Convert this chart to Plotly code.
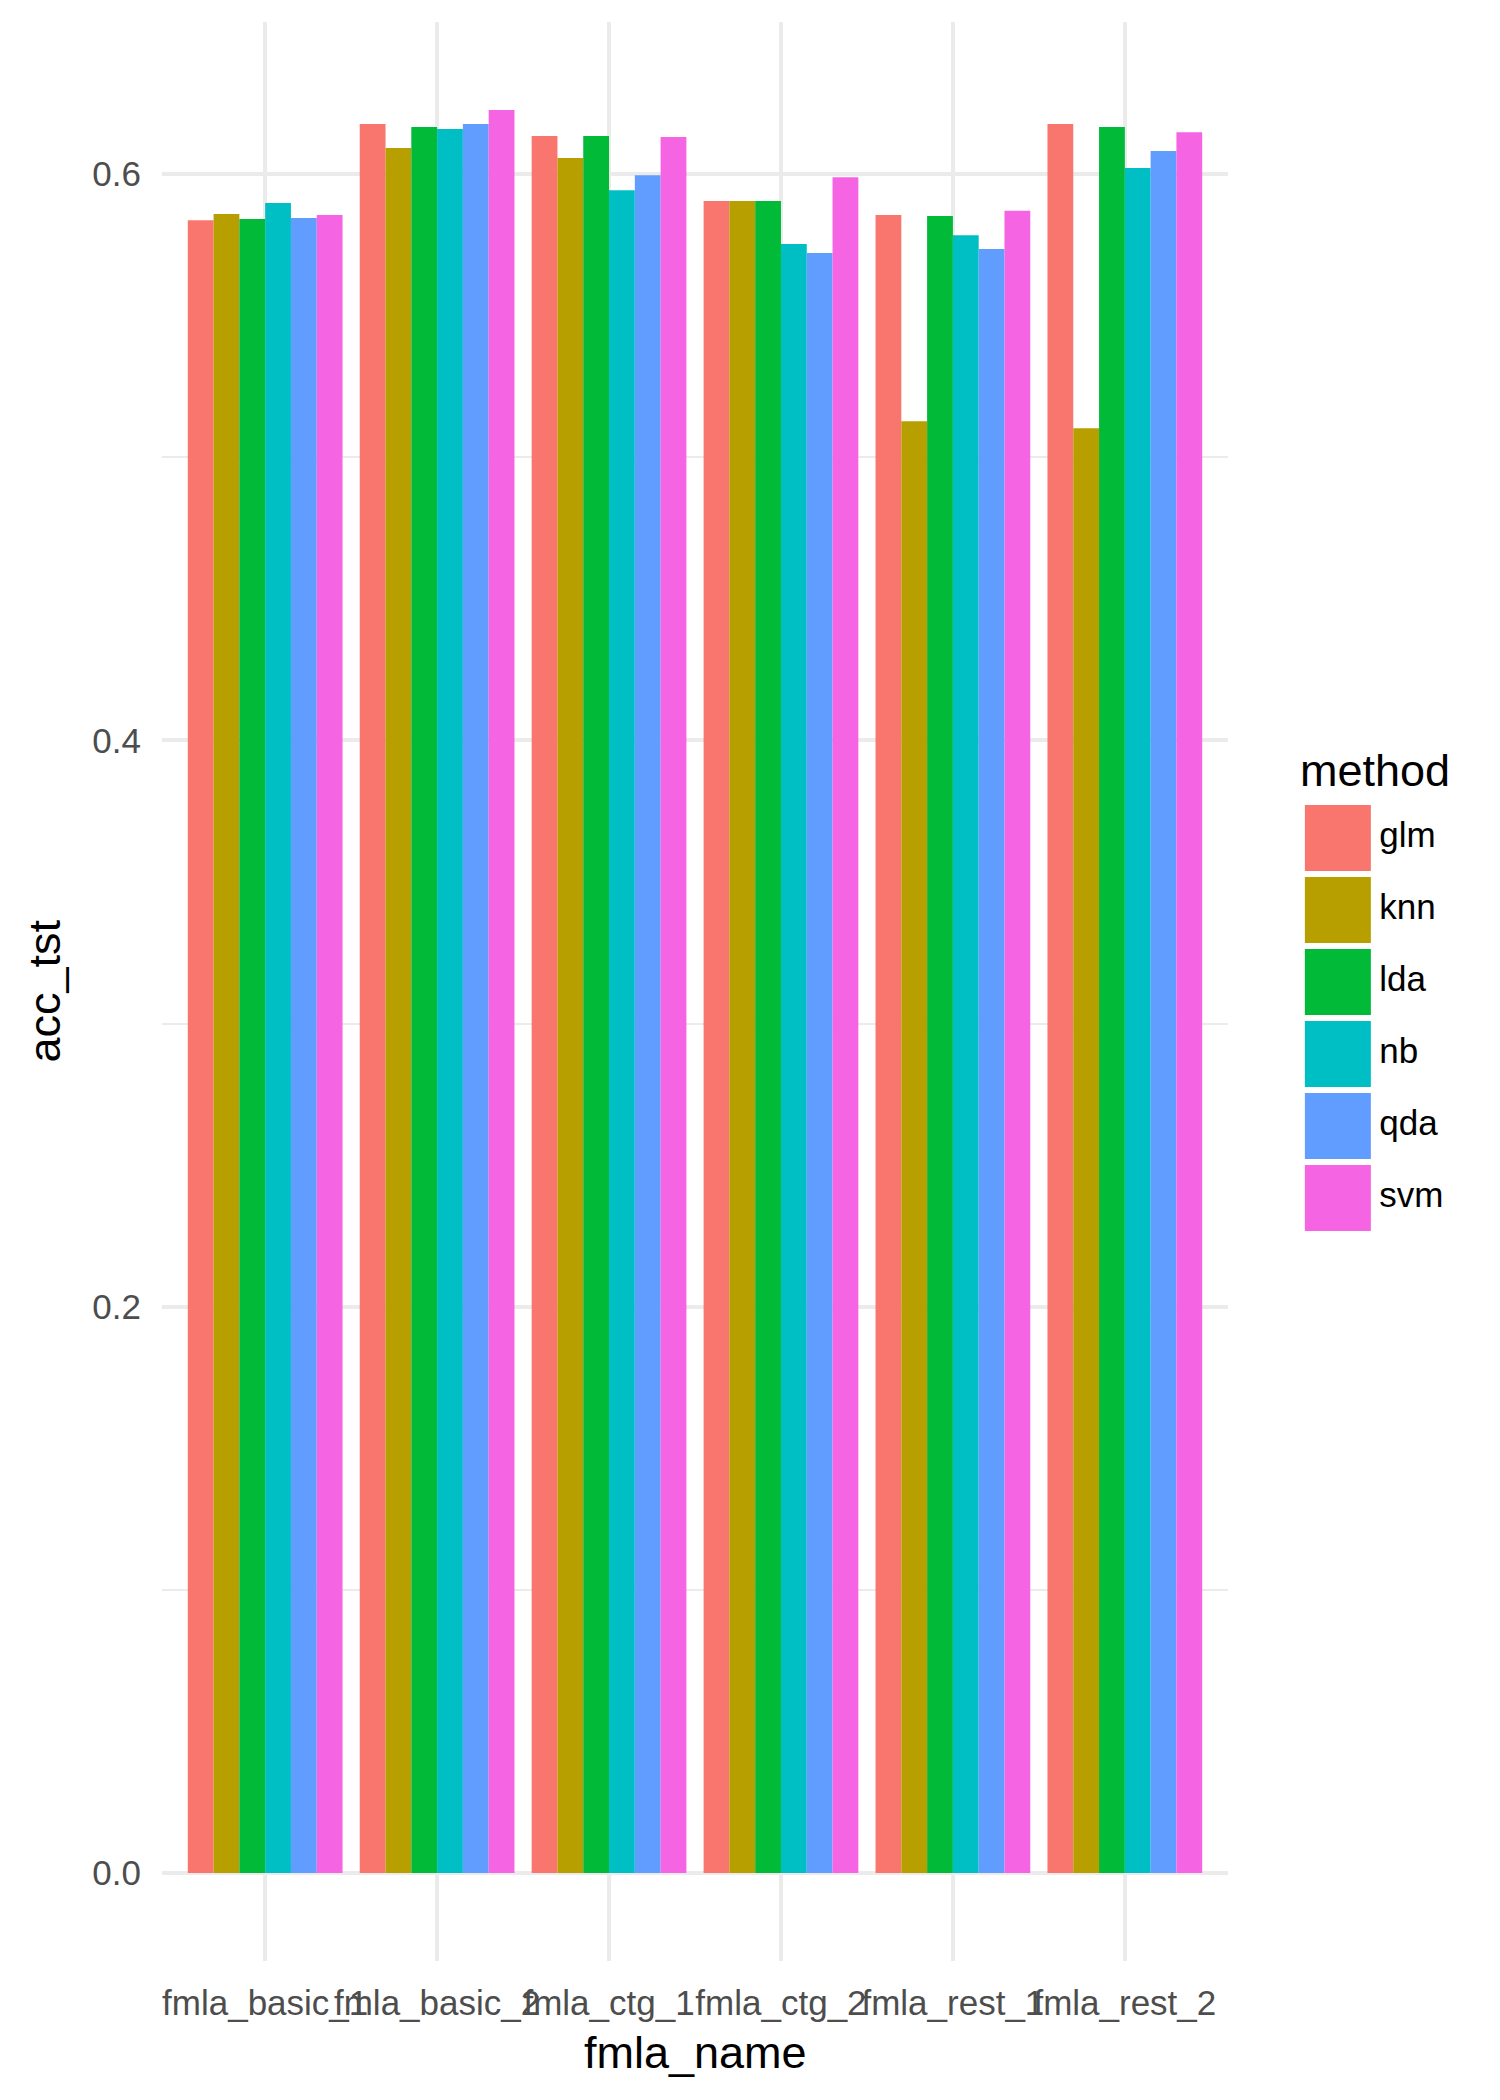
import plotly.graph_objects as go

categories = ["fmla_basic_1", "fmla_basic_2", "fmla_ctg_1", "fmla_ctg_2", "fmla_rest_1", "fmla_rest_2"]
methods = ["glm", "knn", "lda", "nb", "qda", "svm"]
colors = ["#F8766D", "#B79F00", "#00BA38", "#00BFC4", "#619CFF", "#F564E3"]

glm = [0.5837, 0.6177, 0.6134, 0.5905, 0.5855, 0.6177]
knn = [0.5859, 0.6092, 0.6057, 0.5905, 0.5127, 0.5102]
lda = [0.5841, 0.6166, 0.6134, 0.5905, 0.5852, 0.6166]
nb = [0.5898, 0.6159, 0.5943, 0.5753, 0.5784, 0.6021]
qda = [0.5845, 0.6177, 0.5996, 0.5721, 0.5735, 0.6081]
svm = [0.5855, 0.6226, 0.6131, 0.5989, 0.5870, 0.6148]
series = [glm, knn, lda, nb, qda, svm]

y_tickvals = [0.0, 0.2, 0.4, 0.6]
y_ticktext = ["0.0", "0.2", "0.4", "0.6"]

OFF = 8  # page body margin
W, H = 1500, 2100
plot_left, plot_right, plot_top, plot_bottom = 162, 1228, 22, 1961  # page pixels
L, R, T, B = plot_left - OFF, 20, plot_top - OFF, H - (plot_bottom - OFF)
PW = W - L - R
PH = H - T - B


def px_x(x):
    # x given in page pixels
    return (x - OFF - L) / PW


def px_y(y):
    return (H - B - (y - OFF)) / PH


FONT = "Liberation Sans, Arial, sans-serif"
fig = go.Figure()
for name, vals, col in zip(methods, series, colors):
    fig.add_trace(go.Bar(x=categories, y=vals, name=name, marker=dict(color=col, line=dict(width=0)),
                         showlegend=False, xaxis="x", yaxis="y"))

# custom legend with large keys
fig.add_trace(go.Scatter(x=[44] * len(methods), y=methods, mode="markers",
                         marker=dict(symbol="square", size=66, color=colors, line=dict(width=0)),
                         xaxis="x2", yaxis="y2", showlegend=False, hoverinfo="skip"))
fig.add_trace(go.Scatter(x=[82] * len(methods), y=methods, mode="text", text=methods,
                         textposition="middle right",
                         textfont=dict(family=FONT, size=35, color="black"),
                         xaxis="x2", yaxis="y2", showlegend=False, hoverinfo="skip"))

fig.update_layout(
    width=W, height=H,
    margin=dict(l=L, r=R, t=T, b=B),
    paper_bgcolor="white", plot_bgcolor="white",
    bargap=0.1, bargroupgap=0, barmode="group",
    font=dict(family=FONT, color="black"),
    xaxis=dict(domain=[0, px_x(plot_right)], type="category", categoryarray=categories,
               range=[-0.6, 5.6], showgrid=True, gridcolor="#EBEBEB", gridwidth=3.5,
               tickangle=0, tickfont=dict(family=FONT, size=35, color="#4D4D4D"),
               ticks="", ticklabelstandoff=18, zeroline=False, showline=False, fixedrange=True),
    yaxis=dict(domain=[0, 1], range=[-0.0311, 0.6537], tickvals=y_tickvals, ticktext=y_ticktext,
               showgrid=True, gridcolor="#EBEBEB", gridwidth=3.5,
               minor=dict(dtick=0.1, tick0=0, showgrid=True, gridcolor="#EBEBEB", gridwidth=1.8),
               tickfont=dict(family=FONT, size=35, color="#4D4D4D"),
               ticks="", ticklabelstandoff=20, zeroline=False, showline=False, fixedrange=True),
    xaxis2=dict(domain=[px_x(1290), 1.0], range=[0, 190 - OFF], visible=False, fixedrange=True),
    yaxis2=dict(domain=[px_y(1234), px_y(802)], type="category", categoryarray=methods,
                range=[5.5, -0.5], visible=False, fixedrange=True, anchor="x2"),
    annotations=[
        dict(text="fmla_name", xref="paper", yref="paper", x=px_x((plot_left + plot_right) / 2), y=px_y(2052),
             xanchor="center", yanchor="middle", showarrow=False,
             font=dict(family=FONT, size=45, color="black")),
        dict(text="acc_tst", xref="paper", yref="paper", x=px_x(44), y=px_y((plot_top + plot_bottom) / 2),
             textangle=-90, xanchor="center", yanchor="middle", showarrow=False,
             font=dict(family=FONT, size=45, color="black")),
        dict(text="method", xref="paper", yref="paper", x=px_x(1298), y=px_y(770),
             xanchor="left", yanchor="middle", showarrow=False,
             font=dict(family=FONT, size=45, color="black")),
    ],
)
fig.update_layout(xaxis2_anchor="y2")

fig.write_html("out.html")
